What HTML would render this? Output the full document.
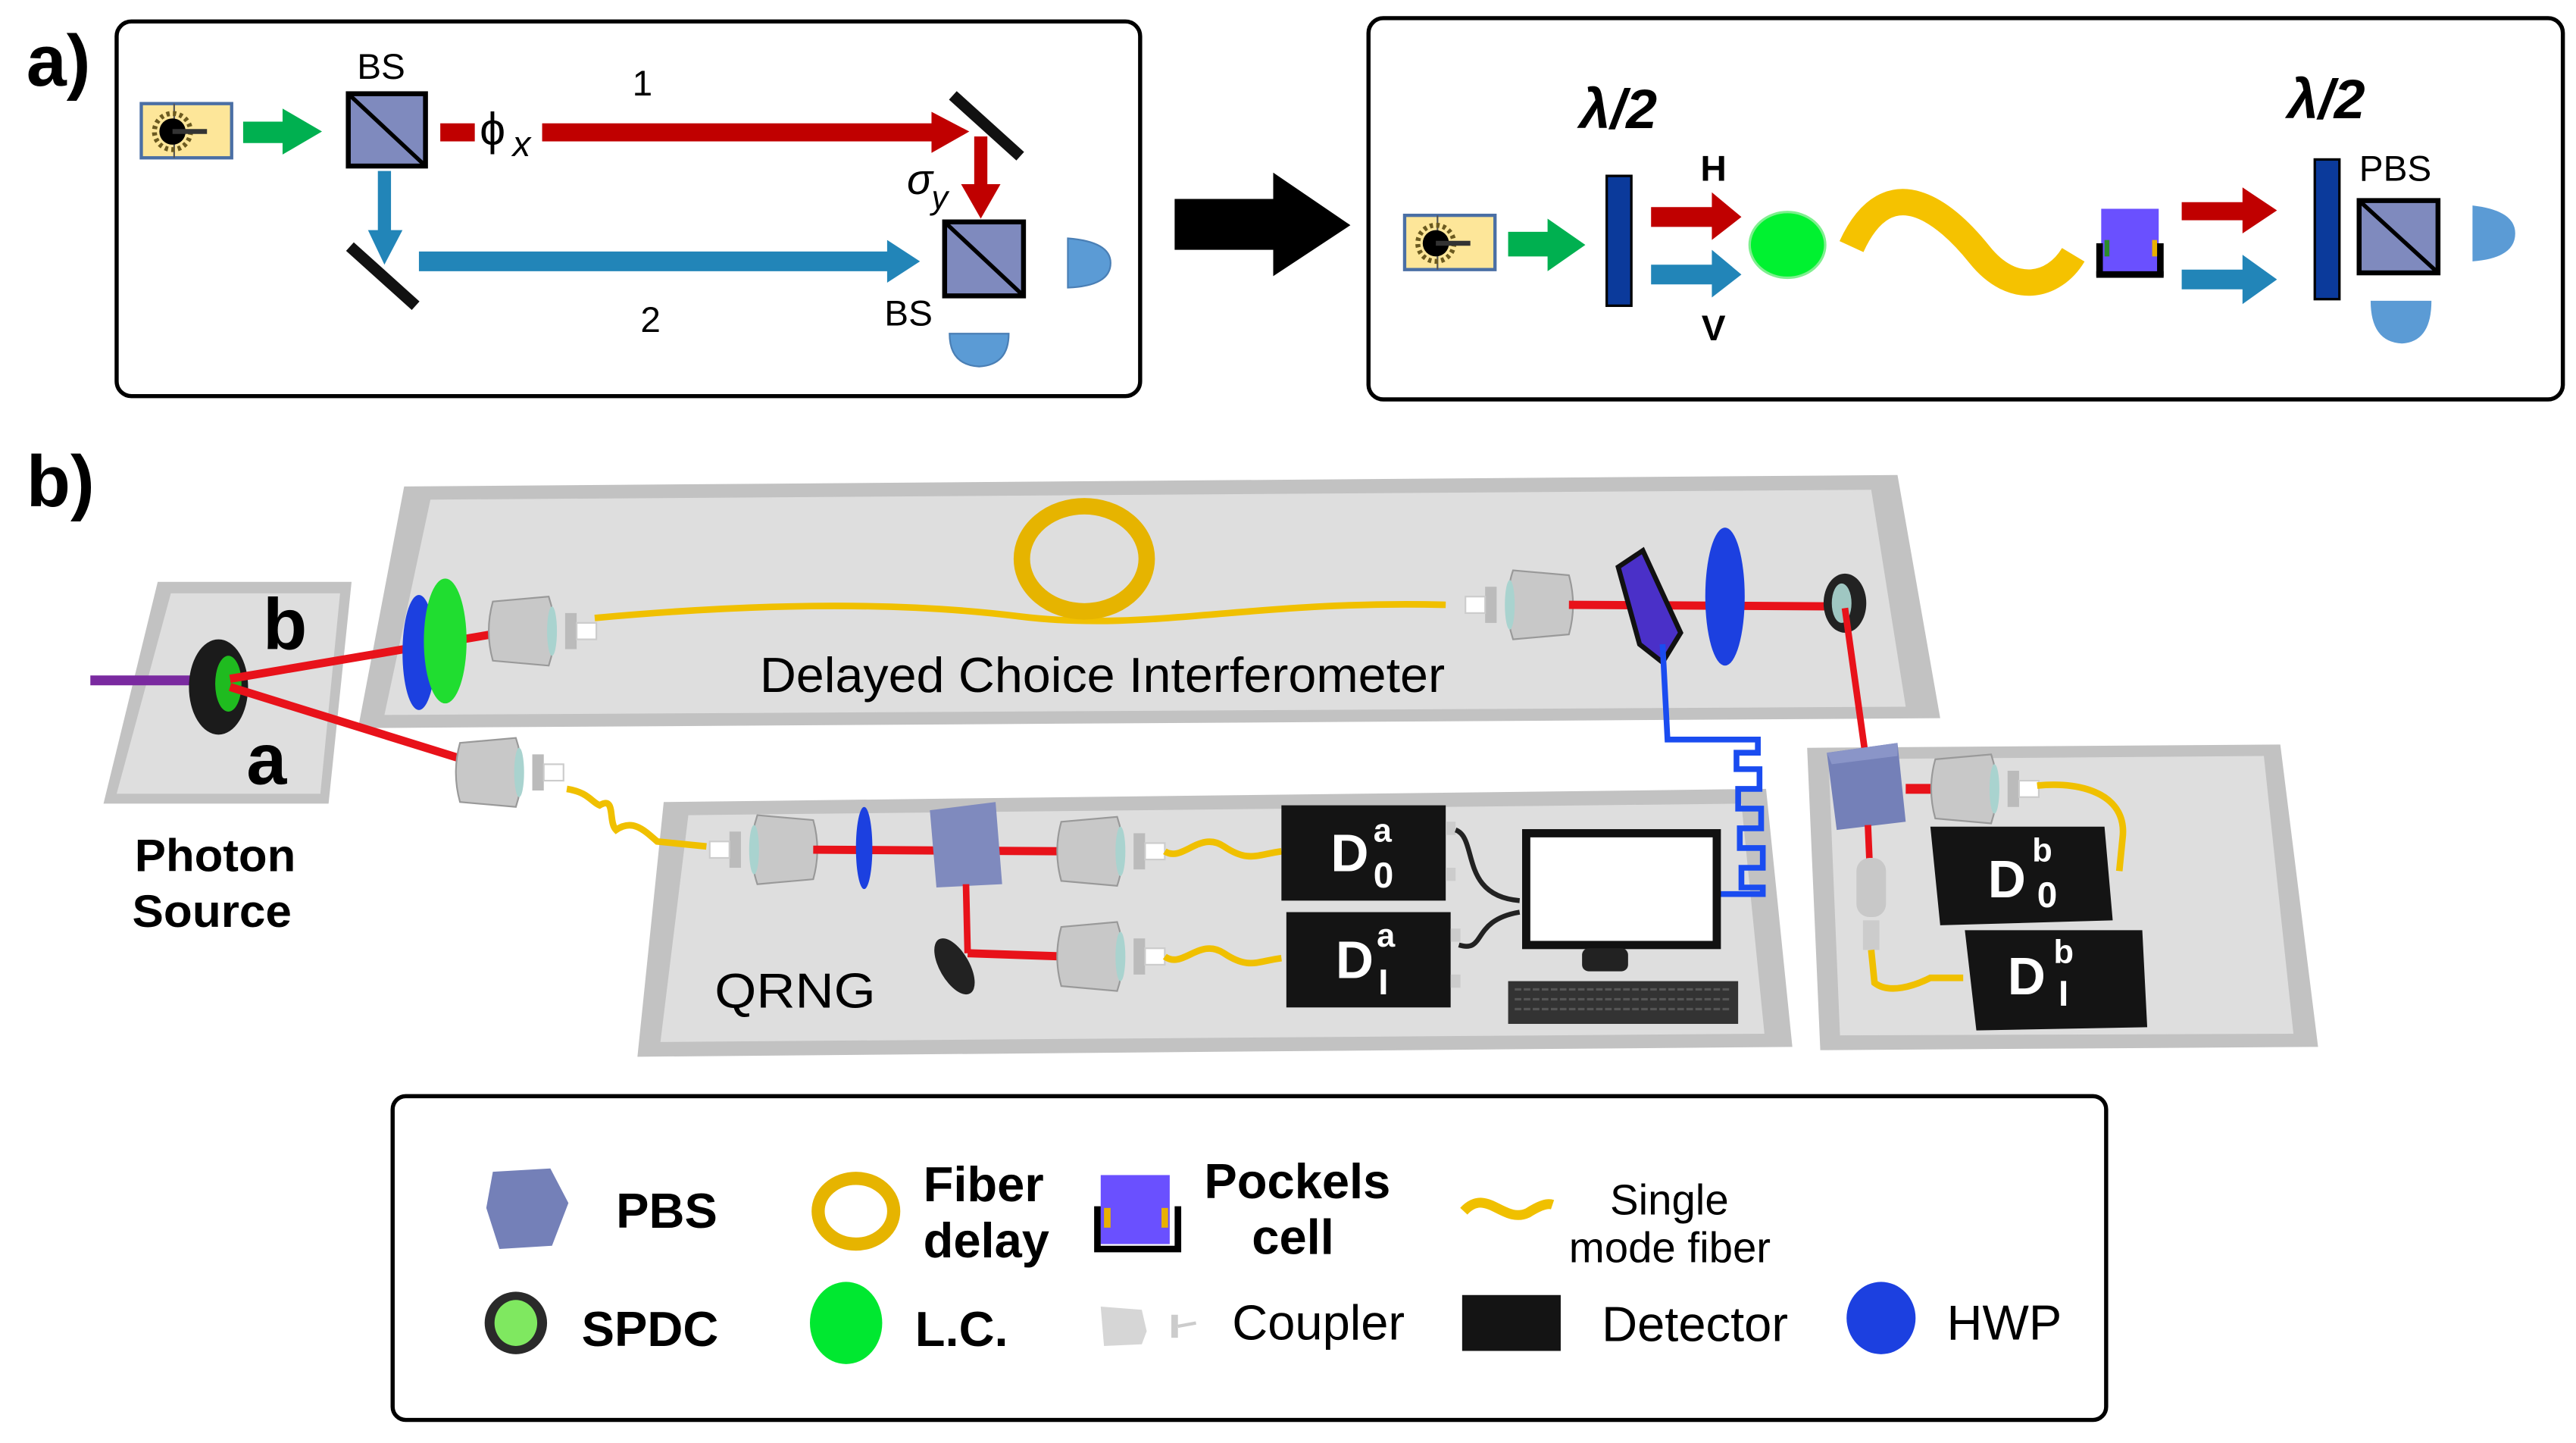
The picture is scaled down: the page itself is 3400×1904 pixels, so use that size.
<!DOCTYPE html>
<html><head><meta charset="utf-8"><style>
html,body{margin:0;padding:0;background:#fff;}
svg{display:block;}
text{font-family:"Liberation Sans",sans-serif;}
</style></head><body>
<svg width="3400" height="1904" viewBox="0 0 1568 878" xmlns="http://www.w3.org/2000/svg">
<defs>
<g id="src">
<rect x="0" y="0" width="55" height="33" fill="#fde699" stroke="#4a6fa5" stroke-width="2"/>
<line x1="20" y1="0" x2="20" y2="33" stroke="#555" stroke-width="1"/>
<circle cx="19" cy="17" r="11" fill="none" stroke="#6b5a20" stroke-width="3" stroke-dasharray="2 2"/>
<circle cx="19" cy="17" r="8" fill="#000"/>
<line x1="19" y1="17" x2="40" y2="17" stroke="#333" stroke-width="3"/>
</g>
<g id="cpl">
<path d="M0,-18 L34,-21 Q41,0 34,21 L0,18 Q-5,0 0,-18Z" fill="#c8c8c8" stroke="#999" stroke-width="1"/>
<ellipse cx="36" cy="0" rx="3" ry="15" fill="#a9d3cf"/>
<rect x="44" y="-11" width="7" height="22" fill="#bbb"/>
<rect x="51" y="-5" width="12" height="10" fill="#fff" stroke="#ccc" stroke-width="1"/>
</g>
<g id="det">
<rect x="0" y="0" width="100" height="58" fill="#141414"/>
<rect x="100" y="10" width="6" height="8" fill="#ccc"/>
<rect x="100" y="38" width="6" height="8" fill="#ccc"/>
</g>
</defs>

<!-- Panel a -->
<text x="16" y="52" font-size="44" font-weight="bold">a)</text>
<rect x="71" y="13" width="623" height="228" rx="9" fill="#fff" stroke="#000" stroke-width="2.5"/>
<use href="#src" x="86" y="63"/>
<path d="M148,74 H172 V66 L196,80 L172,94 V87 H148Z" fill="#00b050"/>
<text x="232" y="48" font-size="22" text-anchor="middle">BS</text>
<rect x="212" y="57" width="47" height="44" fill="#7f8abe" stroke="#000" stroke-width="3"/>
<line x1="213" y1="58" x2="258" y2="100" stroke="#000" stroke-width="2.5"/>
<rect x="268" y="75" width="21" height="11" fill="#c00000"/>
<text x="292" y="88" font-size="28" font-family="Liberation Serif">ϕ</text>
<text x="312" y="95" font-size="22" font-style="italic" font-family="Liberation Serif">x</text>
<rect x="330" y="75" width="238" height="11" fill="#c00000"/>
<path d="M567,68 L590,80 L567,93Z" fill="#c00000"/>
<line x1="580" y1="58" x2="621" y2="95" stroke="#111" stroke-width="7"/>
<rect x="593" y="83" width="8" height="30" fill="#c00000"/>
<path d="M585,112 L609,112 L597,133Z" fill="#c00000"/>
<text x="552" y="118" font-size="26" font-style="italic" font-family="Liberation Serif">σ</text>
<text x="567" y="127" font-size="20" font-style="italic" font-family="Liberation Serif">y</text>
<text x="391" y="58" font-size="22" text-anchor="middle">1</text>
<rect x="230" y="104" width="8" height="37" fill="#2285b8"/>
<path d="M224,140 L245,140 L234,161Z" fill="#2285b8"/>
<line x1="213" y1="150" x2="253" y2="186" stroke="#111" stroke-width="7"/>
<rect x="255" y="153" width="286" height="12" fill="#2285b8"/>
<path d="M540,146 L560,159 L540,172Z" fill="#2285b8"/>
<rect x="575" y="135" width="48" height="45" fill="#7f8abe" stroke="#000" stroke-width="3"/>
<line x1="576" y1="136" x2="622" y2="179" stroke="#000" stroke-width="2.5"/>
<text x="396" y="202" font-size="22" text-anchor="middle">2</text>
<text x="553" y="198" font-size="22" text-anchor="middle">BS</text>
<path d="M650,145 Q676,147 676,160 Q676,174 650,175Z" fill="#5b9bd5" stroke="#4a7fb5" stroke-width="1"/>
<path d="M578,203 L614,203 Q614,222 596,223 Q578,222 578,203Z" fill="#5b9bd5" stroke="#4a7fb5" stroke-width="1"/>

<!-- big arrow -->
<path d="M715,121 H775 V105 L822,137 L775,168 V152 H715Z" fill="#000"/>

<rect x="833" y="11" width="727" height="232" rx="9" fill="#fff" stroke="#000" stroke-width="2.5"/>
<use href="#src" x="855" y="131"/>
<path d="M918,141 H942 V133 L965,149 L942,165 V156 H918Z" fill="#00b050"/>
<rect x="978" y="107" width="15" height="79" fill="#0b3a9b" stroke="#000" stroke-width="1.5"/>
<text x="985" y="78" font-size="34" font-style="italic" font-weight="bold" font-family="Liberation Serif" text-anchor="middle">λ/2</text>
<text x="1043" y="110" font-size="22" font-weight="bold" text-anchor="middle">H</text>
<text x="1043" y="207" font-size="22" font-weight="bold" text-anchor="middle">V</text>
<path d="M1005,126 H1042 V117 L1060,132 L1042,146 V138 H1005Z" fill="#c00000"/>
<path d="M1005,161 H1042 V152 L1060,167 L1042,181 V173 H1005Z" fill="#2285b8"/>
<ellipse cx="1088" cy="149" rx="23" ry="20" fill="#00f230" stroke="#7fef8f" stroke-width="1.5"/>
<path d="M1127,150 C1150,100 1185,130 1205,155 C1225,180 1250,175 1262,155" fill="none" stroke="#f5c200" stroke-width="16" stroke-linecap="butt"/>
<rect x="1279" y="127" width="35" height="39" fill="#6a50ff"/>
<rect x="1276" y="148" width="4" height="20" fill="#000"/><rect x="1313" y="148" width="4" height="20" fill="#000"/>
<rect x="1276" y="165" width="41" height="4" fill="#000"/>
<rect x="1281" y="146" width="3" height="10" fill="#2c8c2c"/><rect x="1310" y="146" width="3" height="10" fill="#e8b000"/>
<path d="M1328,123 H1365 V114 L1386,128 L1365,142 V134 H1328Z" fill="#c00000"/>
<path d="M1328,164 H1365 V155 L1386,170 L1365,185 V176 H1328Z" fill="#2285b8"/>
<rect x="1409" y="97" width="15" height="85" fill="#0b3a9b" stroke="#000" stroke-width="1.5"/>
<text x="1416" y="72" font-size="34" font-style="italic" font-weight="bold" font-family="Liberation Serif" text-anchor="middle">λ/2</text>
<text x="1458" y="110" font-size="22" text-anchor="middle">PBS</text>
<rect x="1436" y="122" width="48" height="44" fill="#7f8abe" stroke="#000" stroke-width="3"/>
<line x1="1437" y1="123" x2="1483" y2="165" stroke="#000" stroke-width="2.5"/>
<path d="M1505,125 Q1531,128 1531,142 Q1531,157 1505,159Z" fill="#5b9bd5"/>
<path d="M1443,183 L1480,183 Q1480,208 1462,209 Q1443,208 1443,183Z" fill="#5b9bd5"/>

<!-- Panel b -->
<text x="16" y="308" font-size="44" font-weight="bold">b)</text>

<!-- DCI plate -->
<path d="M246,296 L1155,289 L1181,437 L218,443Z" fill="#c2c2c2"/>
<path d="M262,304 L1139,298 L1160,430 L234,435Z" fill="#dedede"/>
<!-- QRNG plate -->
<path d="M404,488 L1075,480 L1091,637 L388,643Z" fill="#c2c2c2"/>
<path d="M419,496 L1060,489 L1074,629 L402,634Z" fill="#dedede"/>
<!-- right plate -->
<path d="M1100,455 L1388,453 L1411,637 L1108,639Z" fill="#c2c2c2"/>
<path d="M1113,462 L1378,460 L1396,629 L1120,630Z" fill="#dedede"/>
<!-- source plate -->
<path d="M96,354 L214,354 L200,489 L63,489Z" fill="#c2c2c2"/>
<path d="M104,361 L207,361 L195,483 L71,483Z" fill="#dedede"/>

<line x1="55" y1="414" x2="122" y2="414" stroke="#7a2aa0" stroke-width="6"/>
<ellipse cx="133" cy="418" rx="18" ry="29" fill="#1b1b1b"/>
<ellipse cx="139" cy="416" rx="8" ry="17" fill="#1fbb1f"/>
<text x="160" y="395" font-size="44" font-weight="bold">b</text>
<text x="150" y="477" font-size="44" font-weight="bold">a</text>
<text x="131" y="530" font-size="28" font-weight="bold" text-anchor="middle" textLength="98" lengthAdjust="spacingAndGlyphs">Photon</text>
<text x="129" y="564" font-size="28" font-weight="bold" text-anchor="middle" textLength="97" lengthAdjust="spacingAndGlyphs">Source</text>

<!-- beams from source -->
<line x1="140" y1="413" x2="305" y2="385" stroke="#e8121a" stroke-width="5"/>
<line x1="140" y1="418" x2="285" y2="463" stroke="#e8121a" stroke-width="5"/>
<ellipse cx="255" cy="397" rx="10" ry="35" fill="#1c40e0"/>
<ellipse cx="271" cy="390" rx="13" ry="38" fill="#20dd30"/>
<use href="#cpl" x="300" y="384"/>
<path d="M362,376 C450,368 540,365 620,375 C700,385 760,365 880,368" fill="none" stroke="#f0c000" stroke-width="4"/>
<ellipse cx="660" cy="340" rx="38" ry="32" fill="none" stroke="#e6b400" stroke-width="10"/>
<text x="671" y="421" font-size="30" text-anchor="middle" textLength="417" lengthAdjust="spacingAndGlyphs">Delayed Choice Interferometer</text>
<g transform="translate(955,368) scale(-1,1)"><use href="#cpl"/></g>
<line x1="955" y1="368" x2="1122" y2="369" stroke="#e8121a" stroke-width="5"/>
<path d="M985,345 L1000,335 L1023,385 L1012,403 L998,392Z" fill="#4a30c8" stroke="#111" stroke-width="3"/>
<ellipse cx="1050" cy="363" rx="12" ry="42" fill="#1c40e0"/>
<ellipse cx="1123" cy="367" rx="13" ry="18" fill="#222"/>
<ellipse cx="1121" cy="367" rx="6" ry="12" fill="#9fc7c2"/>
<line x1="1123" y1="370" x2="1135" y2="456" stroke="#e8121a" stroke-width="4"/>
<path d="M1012,392 L1015,450 L1070,450 L1070,458 L1057,458 L1057,468 L1071,468 L1071,480 L1058,480 L1058,492 L1072,492 L1072,504 L1059,504 L1059,516 L1073,516 L1073,528 L1060,528 L1060,540 L1073,540 L1073,544 L1045,544" fill="none" stroke="#1a4cf0" stroke-width="3.5"/>

<!-- QRNG -->
<use href="#cpl" x="280" y="470"/>
<path d="M345,480 C358,482 360,488 365,490 C375,484 370,500 375,505 C385,498 392,505 400,512 L430,515" fill="none" stroke="#f0c000" stroke-width="4"/>
<g transform="translate(495,517) scale(-1,1)"><use href="#cpl"/></g>
<line x1="495" y1="517" x2="650" y2="518" stroke="#e8121a" stroke-width="5"/>
<ellipse cx="526" cy="516" rx="5" ry="25" fill="#1c40e0"/>
<path d="M566,493 L606,488 L610,538 L570,540Z" fill="#7f8abe"/>
<line x1="588" y1="538" x2="589" y2="580" stroke="#e8121a" stroke-width="4"/>
<line x1="589" y1="580" x2="648" y2="582" stroke="#e8121a" stroke-width="5"/>
<ellipse cx="581" cy="588" rx="9" ry="19" fill="#222" transform="rotate(-30 581 588)"/>
<use href="#cpl" x="646" y="518"/>
<use href="#cpl" x="646" y="582"/>
<path d="M709,518 C720,525 730,505 745,515 C760,525 765,520 780,518" fill="none" stroke="#f0c000" stroke-width="4"/>
<path d="M709,582 C720,590 730,570 745,580 C760,590 765,585 780,583" fill="none" stroke="#f0c000" stroke-width="4"/>
<use href="#det" x="780" y="490"/>
<use href="#det" x="783" y="555"/>
<text x="810" y="530" font-size="32" font-weight="bold" fill="#fff">D</text>
<text x="836" y="512" font-size="20" font-weight="bold" fill="#fff">a</text>
<text x="836" y="540" font-size="22" font-weight="bold" fill="#fff">0</text>
<text x="813" y="595" font-size="32" font-weight="bold" fill="#fff">D</text>
<text x="838" y="576" font-size="20" font-weight="bold" fill="#fff">a</text>
<text x="839" y="605" font-size="22" font-weight="bold" fill="#fff">I</text>
<text x="484" y="613" font-size="30" text-anchor="middle" textLength="98" lengthAdjust="spacingAndGlyphs">QRNG</text>
<path d="M886,505 C900,510 888,545 925,548" fill="none" stroke="#222" stroke-width="3"/>
<path d="M888,575 C905,580 895,560 925,555" fill="none" stroke="#222" stroke-width="3"/>
<rect x="929" y="507" width="116" height="68" fill="#fff" stroke="#111" stroke-width="5"/>
<rect x="963" y="577" width="28" height="14" rx="4" fill="#222"/>
<rect x="918" y="597" width="140" height="26" fill="#333"/>
<path d="M922,602 H1054 M922,608 H1054 M922,614 H1054" stroke="#555" stroke-width="1.5" stroke-dasharray="4 1.5"/>

<!-- right plate -->
<path d="M1112,458 L1155,452 L1160,500 L1118,505Z" fill="#7480b8"/>
<path d="M1112,458 L1155,452 L1155,460 L1115,465Z" fill="#8a95c8"/>
<line x1="1160" y1="480" x2="1180" y2="480" stroke="#e8121a" stroke-width="6"/>
<use href="#cpl" x="1178" y="480"/>
<path d="M1240,478 C1270,475 1295,485 1292,510 L1290,530" fill="none" stroke="#f0c000" stroke-width="4"/>
<line x1="1137" y1="502" x2="1138" y2="525" stroke="#e8121a" stroke-width="4"/>
<rect x="1130" y="522" width="18" height="36" rx="8" fill="#c8c8c8"/>
<rect x="1134" y="560" width="10" height="18" fill="#ccc"/>
<path d="M1139,578 L1141,598 C1150,605 1165,600 1175,595 L1195,595" fill="none" stroke="#f0c000" stroke-width="4"/>
<path d="M1175,503 L1281,503 L1286,560 L1181,563Z" fill="#141414"/>
<path d="M1196,566 L1304,566 L1307,625 L1203,627Z" fill="#141414"/>
<text x="1210" y="546" font-size="32" font-weight="bold" fill="#fff">D</text>
<text x="1237" y="524" font-size="20" font-weight="bold" fill="#fff">b</text>
<text x="1240" y="552" font-size="22" font-weight="bold" fill="#fff">0</text>
<text x="1222" y="605" font-size="32" font-weight="bold" fill="#fff">D</text>
<text x="1250" y="586" font-size="20" font-weight="bold" fill="#fff">b</text>
<text x="1253" y="612" font-size="22" font-weight="bold" fill="#fff">I</text>

<!-- Legend -->
<rect x="239" y="667" width="1043" height="197" rx="8" fill="#fff" stroke="#000" stroke-width="2.5"/>
<path d="M300,713 L335,711 L346,732 L336,758 L304,760 L296,735Z" fill="#7480b8"/>
<text x="375" y="747" font-size="30" font-weight="bold">PBS</text>
<ellipse cx="521" cy="737" rx="23" ry="20" fill="none" stroke="#e6b400" stroke-width="8"/>
<text x="562" y="731" font-size="30" font-weight="bold">Fiber</text>
<text x="562" y="765" font-size="30" font-weight="bold">delay</text>
<rect x="670" y="715" width="42" height="42" fill="#6a50ff"/>
<path d="M668,734 V760 H717 V734" fill="none" stroke="#000" stroke-width="4"/>
<rect x="672" y="735" width="4" height="12" fill="#e8b000"/><rect x="707" y="735" width="4" height="12" fill="#e8b000"/>
<text x="733" y="729" font-size="30" font-weight="bold">Pockels</text>
<text x="762" y="763" font-size="30" font-weight="bold">cell</text>
<path d="M891,737 C905,722 915,745 930,738 C938,733 942,732 945,733" fill="none" stroke="#f0c000" stroke-width="6"/>
<text x="980" y="739" font-size="26">Single</text>
<text x="955" y="768" font-size="26">mode fiber</text>
<ellipse cx="314" cy="805" rx="19" ry="19" fill="#2a2a2a"/>
<ellipse cx="314" cy="805" rx="13" ry="14" fill="#7fe860"/>
<text x="354" y="819" font-size="30" font-weight="bold">SPDC</text>
<ellipse cx="515" cy="805" rx="22" ry="25" fill="#00e830"/>
<text x="557" y="819" font-size="30" font-weight="bold">L.C.</text>
<path d="M670,795 L695,797 L698,810 L695,818 L672,819Z" fill="#d6d6d6"/>
<rect x="713" y="800" width="4" height="14" fill="#ccc"/>
<line x1="717" y1="807" x2="728" y2="805" stroke="#ccc" stroke-width="2"/>
<text x="750" y="815" font-size="30">Coupler</text>
<rect x="890" y="788" width="60" height="34" fill="#141414"/>
<text x="975" y="816" font-size="30">Detector</text>
<ellipse cx="1145" cy="802" rx="21" ry="22" fill="#1c40e0"/>
<text x="1185" y="815" font-size="30">HWP</text>
</svg>
</body></html>
